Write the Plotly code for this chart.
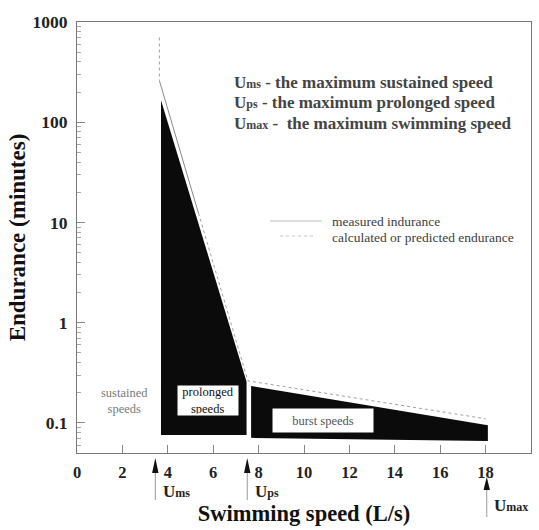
import plotly.graph_objects as go

# Speed regions (L/s) and endurance (minutes)
prolonged_x = [3.7, 7.47, 7.47, 3.7]
prolonged_y = [166, 0.257, 0.076, 0.076]
burst_x = [7.67, 18.1, 18.1, 7.67]
burst_y = [0.234, 0.095, 0.066, 0.071]

# Endurance curve: measured part and calculated / predicted parts
measured_x = [3.63, 5.35]
measured_y = [260, 12.4]
predicted_top_x = [3.63, 3.63]
predicted_top_y = [700, 260]
predicted_x = [5.35, 7.53, 18.0]
predicted_y = [12.4, 0.263, 0.11]

# Critical speeds marked under the axis
speed_marks = [3.45, 7.5, 18.05]
speed_names = ["ms", "ps", "max"]

x_ticks = list(range(0, 21, 2))
y_ticks = [0.1, 1, 10, 100, 1000]
y_tick_text = ["0.1", "1", "10", "100", "1000"]

SERIF = "Liberation Serif, Times New Roman, serif"
L, R, T, B = 77, 8, 22, 77
W, H = 539, 530
PW, PH = W - L - R, H - T - B

fig = go.Figure()

fig.add_trace(go.Scatter(x=prolonged_x, y=prolonged_y, fill="toself", mode="lines",
                         fillcolor="#0b0b0b", line=dict(width=0), showlegend=False,
                         hoverinfo="skip"))
fig.add_trace(go.Scatter(x=burst_x, y=burst_y, fill="toself", mode="lines",
                         fillcolor="#0b0b0b", line=dict(width=0), showlegend=False,
                         hoverinfo="skip"))
fig.add_trace(go.Scatter(x=measured_x, y=measured_y, mode="lines",
                         line=dict(color="#8a8a8a", width=1), showlegend=False))
fig.add_trace(go.Scatter(x=predicted_top_x, y=predicted_top_y, mode="lines",
                         line=dict(color="#a0a0a0", width=1, dash="3px,3px"),
                         showlegend=False))
fig.add_trace(go.Scatter(x=predicted_x, y=predicted_y, mode="lines",
                         line=dict(color="#a0a0a0", width=1, dash="3px,3px"),
                         showlegend=False))


def px_x(p):
    return (p - L) / PW


def px_y(p):
    return (H - B - p) / PH


# Definitions of the critical speeds
defs = [
    ("U<span style='font-size:12px'>ms</span> - the maximum sustained speed", 82),
    ("U<span style='font-size:12px'>ps</span> - the maximum prolonged speed", 103),
    ("U<span style='font-size:12px'>max</span> -&nbsp; the maximum swimming speed", 124),
]
for txt, py in defs:
    fig.add_annotation(x=px_x(232), y=px_y(py), xref="paper", yref="paper",
                       text=txt, showarrow=False, xanchor="left", yanchor="middle",
                       font=dict(family=SERIF, size=17, color="#444444", weight="bold"))

# Line-style key
fig.add_shape(type="line", xref="paper", yref="paper", x0=px_x(270), x1=px_x(322),
              y0=px_y(221), y1=px_y(221), line=dict(color="#bbbbbb", width=1))
fig.add_shape(type="line", xref="paper", yref="paper", x0=px_x(280), x1=px_x(316),
              y0=px_y(236), y1=px_y(236), line=dict(color="#c4c4c4", width=1, dash="3px,3px"))
fig.add_annotation(x=px_x(330), y=px_y(221), xref="paper", yref="paper",
                   text="measured indurance", showarrow=False, xanchor="left",
                   font=dict(family=SERIF, size=13.5, color="#404040"))
fig.add_annotation(x=px_x(330), y=px_y(237), xref="paper", yref="paper",
                   text="calculated or predicted endurance", showarrow=False, xanchor="left",
                   font=dict(family=SERIF, size=13.5, color="#404040"))

# Region labels
fig.add_annotation(x=2.1, y=-0.78, text="sustained<br>speeds", showarrow=False,
                   font=dict(family=SERIF, size=12.5, color="#7a7a7a"))
fig.add_annotation(x=5.79, y=-0.78, text="prolonged<br>speeds", showarrow=False,
                   bgcolor="white", width=57, height=26, borderpad=1.5,
                   font=dict(family=SERIF, size=12.5, color="#111111"))
fig.add_annotation(x=10.85, y=-0.98, text="burst speeds", showarrow=False,
                   bgcolor="white", width=97, height=20, borderpad=1.5,
                   font=dict(family=SERIF, size=12.5, color="#555555"))

# Arrow marks for the critical speeds
tri_rows = [(458, 473), (458, 473), (477, 490)]
for sx, name, (ty0, ty1) in zip(speed_marks, speed_names, tri_rows):
    hw = 3.2 / (PW / 20)
    fig.add_shape(type="path", xref="x", yref="paper",
                  path=f"M {sx - hw},{px_y(ty1)} L {sx + hw},{px_y(ty1)} L {sx},{px_y(ty0)} Z",
                  fillcolor="#111111", line=dict(width=0))
    fig.add_shape(type="line", xref="x", yref="paper", x0=sx, x1=sx,
                  y0=px_y(ty1), y1=px_y(ty1 + 27), line=dict(color="#999999", width=1))
    fig.add_annotation(x=sx + 0.25, y=px_y(ty1 + 19 if name != "max" else ty1 + 15),
                       xref="x", yref="paper", xanchor="left", yanchor="middle",
                       text=f"U<span style='font-size:12px'>{name}</span>", showarrow=False,
                       font=dict(family=SERIF, size=17, color="#222222", weight="bold"))

minor_vals = [m * 10 ** e for e in range(-2, 3) for m in range(2, 10)]
minor_vals = [v for v in minor_vals if 0.05 <= v <= 1000]

fig.update_layout(
    width=W, height=H,
    margin=dict(l=L, r=R, t=T, b=B),
    paper_bgcolor="white", plot_bgcolor="white",
    showlegend=False,
    xaxis=dict(
        range=[0, 20], tickvals=x_ticks, ticks="inside", ticklen=8, tickcolor="#888888",
        showline=True, linecolor="#777777", linewidth=1, mirror=True, showgrid=False,
        zeroline=False, ticklabelstandoff=4,
        tickfont=dict(family=SERIF, size=16.5, color="#222222", weight="bold"),
        title=dict(text="Swimming speed (L/s)", standoff=24,
                   font=dict(family=SERIF, size=22.5, color="#111111", weight="bold")),
    ),
    yaxis=dict(
        type="log", range=[-1.3, 3], tickvals=y_ticks, ticktext=y_tick_text,
        ticks="inside", ticklen=8, tickcolor="#888888",
        minor=dict(tickvals=minor_vals, ticks="inside", ticklen=4, tickcolor="#aaaaaa"),
        showline=True, linecolor="#777777", linewidth=1, mirror=True, showgrid=False,
        zeroline=False, ticklabelstandoff=5,
        tickfont=dict(family=SERIF, size=17.5, color="#222222", weight="bold"),
        title=dict(text="Endurance (minutes)", standoff=0,
                   font=dict(family=SERIF, size=23, color="#111111", weight="bold")),
    ),
)

fig.write_html("out.html")
